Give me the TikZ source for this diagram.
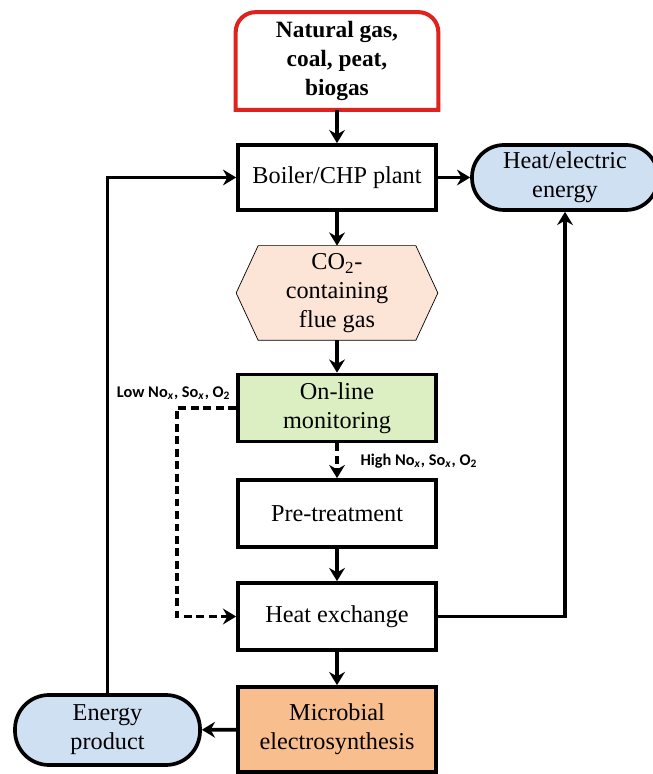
\documentclass[tikz,border=0pt]{standalone}
\usepackage{fontspec}
\setmainfont{Liberation Serif}
\newfontfamily\labelfont{Carlito}
\usetikzlibrary{arrows.meta,backgrounds}
\definecolor{fuelred}{RGB}{222,34,30}
\definecolor{pillblue}{RGB}{207,224,243}
\definecolor{gaspeach}{RGB}{252,228,214}
\definecolor{monigreen}{RGB}{220,239,194}
\definecolor{mesorange}{RGB}{249,190,142}

\begin{document}
\begin{tikzpicture}[line width=2.1pt,>={Stealth[length=7.5pt,width=9pt,inset=2.5pt]},
    stepbox/.style={draw,rectangle,minimum width=3.96cm,minimum height=1.34cm,align=center,inner sep=2pt,font=\fontsize{13.8}{16.5}\selectfont},
    pill/.style={draw,rectangle,rounded corners=0.64cm,fill=pillblue,align=center,inner sep=2pt,font=\fontsize{13.8}{16.5}\selectfont},
    note/.style={inner sep=1pt,font=\labelfont\bfseries\fontsize{9.3}{10}\selectfont},
    bypass/.style={dash pattern=on 4.5pt off 2.6pt}]
    \useasboundingbox (0,0) rectangle (13.04,15.48);
    % main column
    \node[align=center,minimum width=3.98cm,minimum height=1.88cm,font=\bfseries\fontsize{13.3}{16.5}\selectfont] (fuel) at (6.74,14.26) {Natural gas,\\coal, peat,\\biogas};
    \draw[fuelred,line width=2.3pt] (fuel.south west) [rounded corners=0.4cm] -- (fuel.north west) -- (fuel.north east) [sharp corners] -- (fuel.south east) -- cycle;
    \node[stepbox,minimum height=1.30cm] (boiler) at (6.74,11.93) {Boiler/CHP plant};
    \node[stepbox,draw=none,minimum height=1.82cm,inner sep=0pt] (gas) at (6.74,9.62) {CO\textsubscript{2}-\\containing\\flue gas};
    \begin{scope}[on background layer]
        \draw[fill=gaspeach] (gas.west) -- ([xshift=0.44cm]gas.north west) -- ([xshift=-0.44cm]gas.north east) -- (gas.east)
        -- ([xshift=-0.44cm]gas.south east) -- ([xshift=0.44cm]gas.south west) -- cycle;
    \end{scope}
    \node[stepbox,fill=monigreen] (moni) at (6.74,7.32) {On-line\\monitoring};
    \node[stepbox] (pretreat) at (6.74,5.21) {Pre-treatment};
    \node[stepbox] (heatx) at (6.74,3.15) {Heat exchange};
    \node[stepbox,fill=mesorange,minimum height=1.70cm] (mes) at (6.74,0.89) {Microbial\\electrosynthesis};
    % side nodes
    \node[pill,minimum width=3.72cm,minimum height=1.30cm] (heatel) at (11.30,11.93) {Heat/electric\\energy};
    \node[pill,minimum width=3.70cm,minimum height=1.40cm,rounded corners=0.68cm] (product) at (2.15,0.88) {Energy\\product};
    \node[note,anchor=east] (low) at (4.68,7.62) {Low No\textsubscript{\textit{x}}, So\textsubscript{\textit{x}}, O\textsubscript{2}};
    \node[note,anchor=west] (high) at (7.14,6.26) {High No\textsubscript{\textit{x}}, So\textsubscript{\textit{x}}, O\textsubscript{2}};
    \coordinate (bend) at (3.54,7.32);
    % connectors
    \draw[->] (fuel) -- (boiler);
    \draw[->] (boiler) -- (gas);
    \draw[->] (gas) -- (moni);
    \draw[->,bypass] (moni) -- (pretreat);
    \draw[->,bypass] (moni.west) -- (bend) |- (heatx.west);
    \draw[->] (pretreat) -- (heatx);
    \draw[->] (heatx) -- (mes);
    \draw[->] (mes) -- (product);
    \draw[->] (boiler) -- (heatel);
    \draw[->] (heatx.east) -| (heatel.south);
    \draw[->] (product.north) |- (boiler.west);
\end{tikzpicture}
\end{document}
